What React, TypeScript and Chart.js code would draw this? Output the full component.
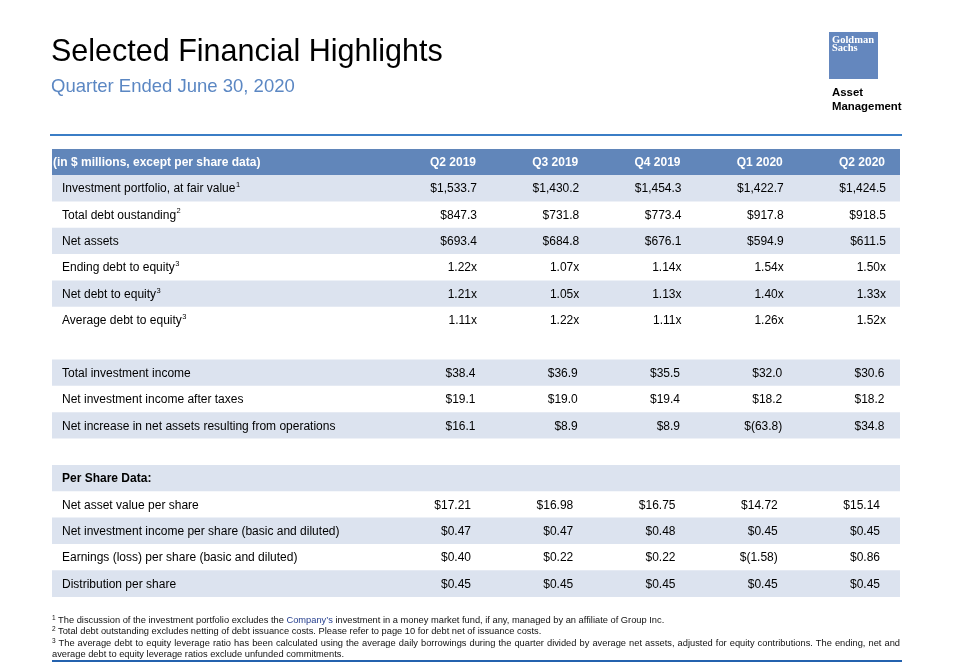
import React, { useEffect, useRef } from "react";
import { Chart, registerables } from "chart.js";

Chart.register(...registerables);

// ---------- data ----------
const quarters = ["Q2 2019", "Q3 2019", "Q4 2019", "Q1 2020", "Q2 2020"];
const headerLabel = "(in $ millions, except per share data)";

const portfolioLabels = [
  "Investment portfolio, at fair value",
  "Total debt oustanding",
  "Net assets",
  "Ending debt to equity",
  "Net debt to equity",
  "Average debt to equity",
];
const portfolioNotes = ["1", "2", "", "3", "3", "3"];
const investmentPortfolio = [1533.7, 1430.2, 1454.3, 1422.7, 1424.5];
const totalDebt = [847.3, 731.8, 773.4, 917.8, 918.5];
const netAssets = [693.4, 684.8, 676.1, 594.9, 611.5];
const endingDebtToEquity = [1.22, 1.07, 1.14, 1.54, 1.5];
const netDebtToEquity = [1.21, 1.05, 1.13, 1.4, 1.33];
const averageDebtToEquity = [1.11, 1.22, 1.11, 1.26, 1.52];

const incomeLabels = [
  "Total investment income",
  "Net investment income after taxes",
  "Net increase in net assets resulting from operations",
];
const totalInvestmentIncome = [38.4, 36.9, 35.5, 32.0, 30.6];
const netInvestmentIncome = [19.1, 19.0, 19.4, 18.2, 18.2];
const netIncreaseNetAssets = [16.1, 8.9, 8.9, -63.8, 34.8];

const perShareHeader = "Per Share Data:";
const perShareLabels = [
  "Net asset value per share",
  "Net investment income per share (basic and diluted)",
  "Earnings (loss) per share (basic and diluted)",
  "Distribution per share",
];
const navPerShare = [17.21, 16.98, 16.75, 14.72, 15.14];
const niiPerShare = [0.47, 0.47, 0.48, 0.45, 0.45];
const epsPerShare = [0.4, 0.22, 0.22, -1.58, 0.86];
const distributionPerShare = [0.45, 0.45, 0.45, 0.45, 0.45];

// ---------- formatting ----------
const money = (digits: number) => (v: number) => {
  const s = Math.abs(v).toLocaleString("en-US", {
    minimumFractionDigits: digits,
    maximumFractionDigits: digits,
  });
  return v < 0 ? `$(${s})` : `$${s}`;
};
const money1 = money(1);
const money2 = money(2);
const ratio = (v: number) => v.toFixed(2) + "x";

type Row = {
  kind: "header" | "data" | "gap" | "subhead";
  label?: string;
  note?: string;
  values?: number[];
  fmt?: (v: number) => string;
  section: number;
  shade: "dark" | "light" | "white";
};

const portfolioSeries = [
  investmentPortfolio,
  totalDebt,
  netAssets,
  endingDebtToEquity,
  netDebtToEquity,
  averageDebtToEquity,
];
const incomeSeries = [totalInvestmentIncome, netInvestmentIncome, netIncreaseNetAssets];
const perShareSeries = [navPerShare, niiPerShare, epsPerShare, distributionPerShare];

const rows: Row[] = [
  { kind: "header", label: headerLabel, section: 0, shade: "dark" },
  ...portfolioLabels.map((l, i): Row => ({
    kind: "data",
    label: l,
    note: portfolioNotes[i],
    values: portfolioSeries[i],
    fmt: i < 3 ? money1 : ratio,
    section: 0,
    shade: i % 2 === 0 ? "light" : "white",
  })),
  { kind: "gap", section: 1, shade: "white" },
  ...incomeLabels.map((l, i): Row => ({
    kind: "data",
    label: l,
    values: incomeSeries[i],
    fmt: money1,
    section: 1,
    shade: i % 2 === 0 ? "light" : "white",
  })),
  { kind: "gap", section: 2, shade: "white" },
  { kind: "subhead", label: perShareHeader, section: 2, shade: "light" },
  ...perShareLabels.map((l, i): Row => ({
    kind: "data",
    label: l,
    values: perShareSeries[i],
    fmt: money2,
    section: 2,
    shade: i % 2 === 0 ? "white" : "light",
  })),
];

// ---------- style ----------
const SHADES = { dark: "#6186ba", light: "#dce3ef", white: "#ffffff" };
const X_MIN = -4.157;
const X_MAX = 4.137;
const SECTION_SHIFT = [0, -1.5, -6];
const FONT = '"Liberation Sans", Arial, Helvetica, sans-serif';

const tablePlugin = {
  id: "tableText",
  afterDatasetsDraw(chart: any) {
    const { ctx, scales } = chart;
    const x = scales.x;
    const y = scales.y;
    ctx.save();
    ctx.textBaseline = "middle";
    rows.forEach((r, i) => {
      const yc = y.getPixelForValue(i) + 0.5;
      if (r.kind === "header") {
        ctx.font = `bold 12px ${FONT}`;
        ctx.fillStyle = "#ffffff";
        ctx.textAlign = "left";
        ctx.fillText(r.label, x.left + 1, yc);
        ctx.textAlign = "right";
        quarters.forEach((q, c) => {
          ctx.fillText(q, x.getPixelForValue(c) - 1, yc);
        });
      } else if (r.kind === "subhead") {
        ctx.font = `bold 12px ${FONT}`;
        ctx.fillStyle = "#000000";
        ctx.textAlign = "left";
        ctx.fillText(r.label, x.left + 10, yc);
      } else if (r.kind === "data") {
        ctx.font = `12px ${FONT}`;
        ctx.fillStyle = "#000000";
        ctx.textAlign = "left";
        const lx = x.left + 10;
        ctx.fillText(r.label, lx, yc);
        if (r.note) {
          const w = ctx.measureText(r.label).width;
          ctx.font = `7.5px ${FONT}`;
          ctx.fillText(r.note, lx + w + 0.5, yc - 4);
          ctx.font = `12px ${FONT}`;
        }
        ctx.textAlign = "right";
        const shift = SECTION_SHIFT[r.section];
        r.values!.forEach((v, c) => {
          ctx.fillText(r.fmt!(v), x.getPixelForValue(c) + shift, yc);
        });
      }
    });
    ctx.restore();
  },
};

export default function App() {
  const ref = useRef<HTMLCanvasElement>(null);
  useEffect(() => {
    const chart = new Chart(ref.current as HTMLCanvasElement, {
      type: "bar",
      data: {
        labels: rows.map((r, i) => r.label ?? `gap-${i}`),
        datasets: [
          {
            data: rows.map(() => [X_MIN, X_MAX]) as any,
            backgroundColor: rows.map((r) => SHADES[r.shade]),
            borderWidth: 0,
            barPercentage: 1,
            categoryPercentage: 1,
          },
        ],
      },
      options: {
        indexAxis: "y",
        animation: false,
        responsive: false,
        devicePixelRatio: 1,
        events: [],
        layout: { padding: { left: 52, right: 54, top: 149, bottom: 66 } },
        plugins: {
          legend: { display: false },
          tooltip: { enabled: false },
          title: { display: false },
        },
        scales: {
          x: { type: "linear", min: X_MIN, max: X_MAX, display: false },
          y: { type: "category", display: false, offset: true },
        },
      },
      plugins: [tablePlugin],
    });
    return () => chart.destroy();
  }, []);

  const sup = (n: string) => (
    <span style={{ fontSize: "6.5px", position: "relative", top: "-3px" }}>{n}</span>
  );

  return (
    <div
      style={{
        position: "absolute",
        left: 0,
        top: 0,
        width: 954,
        height: 663,
        background: "#ffffff",
        overflow: "hidden",
        fontFamily: FONT,
        color: "#000",
      }}
    >
      <canvas
        ref={ref}
        width={954}
        height={663}
        style={{ position: "absolute", left: 0, top: 0, width: 954, height: 663 }}
      />
      <div
        style={{
          position: "absolute",
          left: 51,
          top: 35,
          fontSize: 30.5,
          lineHeight: "30px",
          whiteSpace: "nowrap",
        }}
      >
        Selected Financial Highlights
      </div>
      <div
        style={{
          position: "absolute",
          left: 51,
          top: 77,
          fontSize: 18.5,
          lineHeight: "18px",
          color: "#5b87c3",
          whiteSpace: "nowrap",
        }}
      >
        Quarter Ended June 30, 2020
      </div>
      <div
        style={{
          position: "absolute",
          left: 829,
          top: 32,
          width: 49,
          height: 47,
          background: "#6487be",
        }}
      >
        <div
          style={{
            position: "absolute",
            left: 3,
            top: 3.5,
            fontFamily: '"Liberation Serif", "Times New Roman", serif',
            fontWeight: "bold",
            fontSize: 10.5,
            lineHeight: "8px",
            color: "#ffffff",
            whiteSpace: "nowrap",
          }}
        >
          Goldman
          <br />
          Sachs
        </div>
      </div>
      <div
        style={{
          position: "absolute",
          left: 832,
          top: 85,
          fontWeight: "bold",
          fontSize: 11.4,
          lineHeight: "14px",
          whiteSpace: "nowrap",
        }}
      >
        Asset
        <br />
        Management
      </div>
      <div
        style={{ position: "absolute", left: 50, top: 134, width: 852, height: 2, background: "#3b7ec6" }}
      />
      <div
        style={{
          position: "absolute",
          left: 52,
          top: 614.5,
          width: 848,
          fontSize: 9.3,
          lineHeight: "10.5px",
          color: "#111",
        }}
      >
        <div style={{ whiteSpace: "nowrap" }}>
          {sup("1")} The discussion of the investment portfolio excludes the{" "}
          <span style={{ color: "#27408f" }}>Company’s</span> investment in a money market fund, if
          any, managed by an affiliate of Group Inc.
        </div>
        <div style={{ whiteSpace: "nowrap" }}>
          {sup("2")} Total debt outstanding excludes netting of debt issuance costs. Please refer to
          page 10 for debt net of issuance costs.
        </div>
        <div style={{ whiteSpace: "nowrap", textAlign: "justify", textAlignLast: "justify" }}>
          {sup("3")} The average debt to equity leverage ratio has been calculated using the average
          daily borrowings during the quarter divided by average net assets, adjusted for equity
          contributions. The ending, net and
        </div>
        <div style={{ whiteSpace: "nowrap" }}>
          average debt to equity leverage ratios exclude unfunded commitments.
        </div>
      </div>
      <div
        style={{ position: "absolute", left: 52, top: 660, width: 850, height: 2, background: "#2462ae" }}
      />
    </div>
  );
}
